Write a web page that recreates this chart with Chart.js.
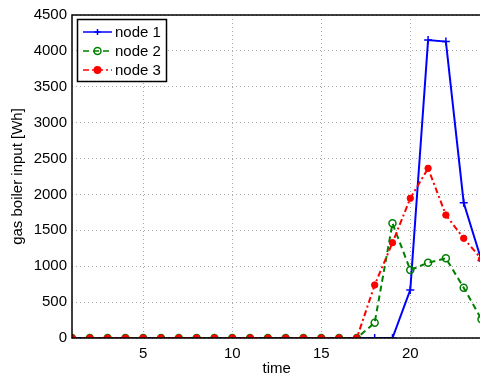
<!DOCTYPE html>
<html>
<head>
<meta charset="utf-8">
<script src="https://cdn.jsdelivr.net/npm/chart.js@4"></script>
<style>
  html, body { margin: 0; padding: 0; background: #fff; overflow: hidden; }
  #wrap { width: 480px; height: 379px; overflow: hidden; }
</style>
</head>
<body>
<div id="wrap"><canvas id="chart-0" width="487" height="379"></canvas></div>
<script>
// hours of the day
var hours = [1,2,3,4,5,6,7,8,9,10,11,12,13,14,15,16,17,18,19,20,21,22,23,24];
var node1 = [0,0,0,0,0,0,0,0,0,0,0,0,0,0,0,0,0,0,0,670,4150,4130,1885,1080];
var node2 = [0,0,0,0,0,0,0,0,0,0,0,0,0,0,0,0,0,213,1598,947,1049,1110,701,260];
var node3 = [0,0,0,0,0,0,0,0,0,0,0,0,0,0,0,0,0,738,1328,1946,2364,1713,1389,1100];
var xTicks = [5,10,15,20];
var yTicks = [0,500,1000,1500,2000,2500,3000,3500,4000,4500];
var seriesNames = ["node 1","node 2","node 3"];

var font = "'Liberation Sans', Arial, sans-serif";

function pts(vals){
    return hours.map(function(h,i){ return {x:h, y:vals[i]}; });
}

// solid axes, top edge, and a boxed legend with line samples and markers
var frame = {
    id: "frame",
    afterDatasetsDraw: function(chart){
        var ctx = chart.ctx, a = chart.chartArea;
        ctx.save();
        ctx.strokeStyle = "#000";
        ctx.lineWidth = 1.5;
        ctx.setLineDash([]);
        ctx.beginPath();
        ctx.moveTo(a.right + 5, a.top);
        ctx.lineTo(a.left, a.top);
        ctx.lineTo(a.left, a.bottom);
        ctx.lineTo(a.right + 5, a.bottom);
        ctx.stroke();

        var bx = 77.5, by = 19.5, bw = 89, bh = 62;
        ctx.lineWidth = 1.5;
        ctx.fillStyle = "#fff";
        ctx.fillRect(bx, by, bw, bh);
        ctx.strokeRect(bx, by, bw, bh);
        ctx.font = "15px " + font;
        ctx.textBaseline = "middle";
        chart.data.datasets.forEach(function(ds, i){
            var y = 32 + i * 19;
            ctx.strokeStyle = ds.borderColor;
            ctx.lineWidth = 1.5;
            ctx.setLineDash(ds.borderDash || []);
            ctx.beginPath();
            ctx.moveTo(83, y);
            ctx.lineTo(112, y);
            ctx.stroke();
            ctx.setLineDash([]);
            var cx = 97.5;
            if (ds.pointStyle === "cross") {
                ctx.beginPath();
                ctx.moveTo(cx - 3, y); ctx.lineTo(cx + 3, y);
                ctx.moveTo(cx, y - 3); ctx.lineTo(cx, y + 3);
                ctx.stroke();
            } else {
                ctx.beginPath();
                ctx.arc(cx, y, ds.pointRadius, 0, Math.PI * 2);
                ctx.fillStyle = ds.pointBackgroundColor;
                ctx.fill();
                ctx.strokeStyle = ds.pointBorderColor;
                ctx.stroke();
            }
            ctx.fillStyle = "#000";
            ctx.fillText(seriesNames[i], 115, y + 1);
        });
        ctx.restore();
    }
};

new Chart(document.getElementById("chart-0"), {
    type: "line",
    data: {
        datasets: [
            {label: seriesNames[0], data: pts(node1), borderColor: "#0000ff", borderWidth: 2,
             pointStyle: "cross", pointRadius: 4, pointBorderWidth: 1.5,
             pointBorderColor: "#0000ff", pointBackgroundColor: "#0000ff", order: 3},
            {label: seriesNames[1], data: pts(node2), borderColor: "#008000", borderWidth: 2,
             borderDash: [6,4], pointStyle: "circle", pointRadius: 3.5, pointBorderWidth: 1.5,
             pointBorderColor: "#008000", pointBackgroundColor: "rgba(255,255,255,0)", order: 2},
            {label: seriesNames[2], data: pts(node3), borderColor: "#ff0000", borderWidth: 2,
             borderDash: [6,3,2,3], pointStyle: "circle", pointRadius: 3.2, pointBorderWidth: 1,
             pointBorderColor: "#ff0000", pointBackgroundColor: "#ff0000", order: 1}
        ]
    },
    options: {
        responsive: false,
        animation: false,
        layout: {padding: {top: 15, right: 0, left: 0, bottom: 0}},
        plugins: {legend: {display: false}, tooltip: {enabled: false}},
        elements: {line: {tension: 0}},
        scales: {
            x: {
                type: "linear", min: 1, max: 24,
                afterBuildTicks: function(s){ s.ticks = xTicks.map(function(v){ return {value: v}; }); },
                afterFit: function(s){ s.height = 41; },
                grid: {color: "#aaa", lineWidth: 1, tickLength: 0, drawTicks: false},
                border: {display: false, dash: [1,3]},
                ticks: {color: "#000", font: {family: font, size: 15}, padding: 7, maxRotation: 0,
                        callback: function(v){ return String(v); }},
                title: {display: true, text: "time", color: "#000", font: {family: font, size: 15}, padding: {top: 0, bottom: 1}}
            },
            y: {
                min: 0, max: 4500,
                afterBuildTicks: function(s){ s.ticks = yTicks.map(function(v){ return {value: v}; }); },
                afterFit: function(s){ s.width = 72; },
                grid: {color: "#aaa", lineWidth: 1, tickLength: 0, drawTicks: false},
                border: {display: false, dash: [1,3]},
                ticks: {color: "#000", font: {family: font, size: 15}, padding: 5,
                        callback: function(v){ return String(v); }},
                title: {display: true, text: "gas boiler input [Wh]", color: "#000", font: {family: font, size: 15}, padding: {top: 9, bottom: 0}}
            }
        }
    },
    plugins: [frame]
});
</script>
</body>
</html>
